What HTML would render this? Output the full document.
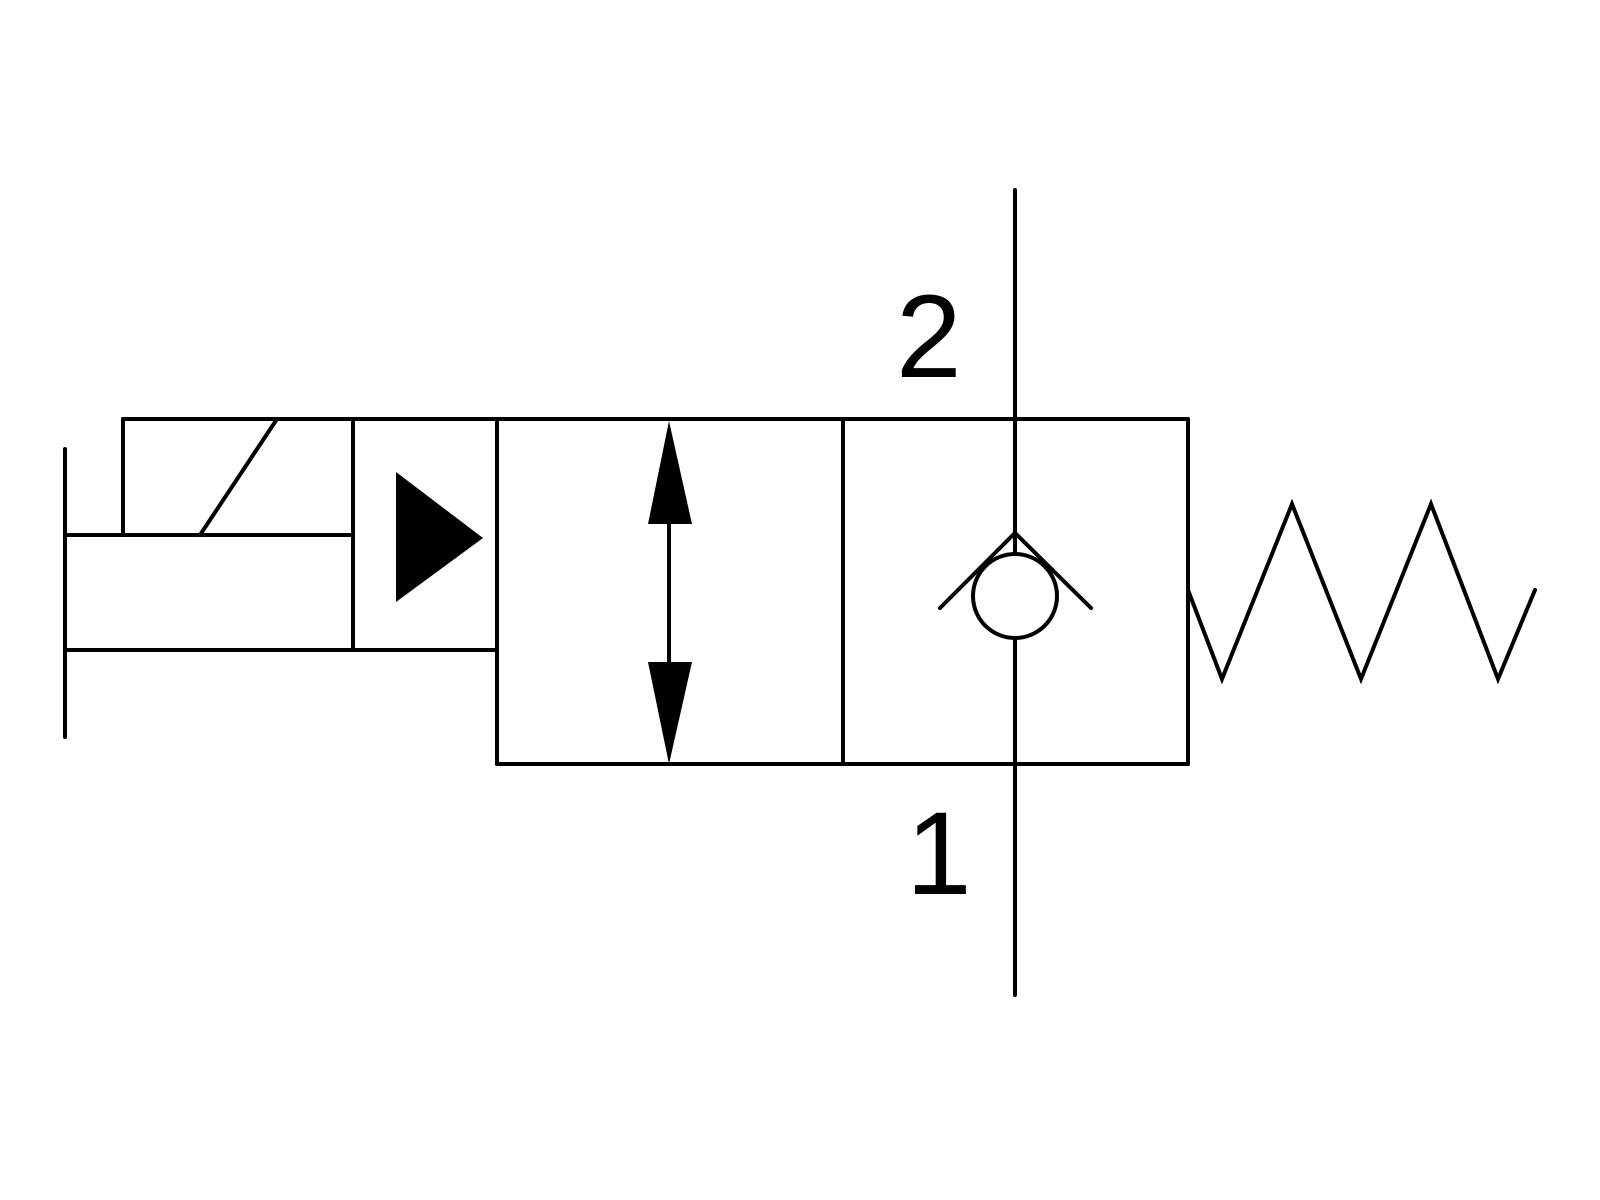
<!DOCTYPE html>
<html><head><style>body{margin:0;background:#fff}svg{display:block}</style></head><body>
<svg width="1600" height="1200" xmlns="http://www.w3.org/2000/svg">
<g stroke="#000" stroke-width="4" stroke-linecap="round" fill="none">
<line x1="123" y1="419" x2="1188" y2="419"/>
<line x1="497" y1="764" x2="1188" y2="764"/>
<line x1="65" y1="449" x2="65" y2="737"/>
<line x1="123" y1="419" x2="123" y2="535"/>
<line x1="277" y1="419" x2="200" y2="535"/>
<line x1="65" y1="535" x2="353" y2="535"/>
<line x1="65" y1="650" x2="497" y2="650"/>
<line x1="353" y1="419" x2="353" y2="650"/>
<line x1="497" y1="419" x2="497" y2="764"/>
<line x1="843" y1="419" x2="843" y2="764"/>
<line x1="1188" y1="419" x2="1188" y2="764"/>
<line x1="1015" y1="190" x2="1015" y2="553"/>
<line x1="1015" y1="639" x2="1015" y2="995"/>
<line x1="669" y1="524" x2="669" y2="662"/>
<polyline points="940,608 1015,533 1091,608"/>
<circle cx="1015" cy="596" r="42"/>
<polyline points="1188,590 1222,679 1292,504 1361,679 1431,504 1498,679 1535,590"/>
</g>
<g fill="#000">
<polygon points="396,472 396,602 483,538"/>
<polygon points="669,421 648,524 692,524"/>
<polygon points="669,764 648,662 692,662"/>
</g>
<g font-family="Liberation Sans, sans-serif" font-size="118" fill="#000">
<text x="896" y="377">2</text>
<text x="906" y="894">1</text>
</g>
</svg>
</body></html>
